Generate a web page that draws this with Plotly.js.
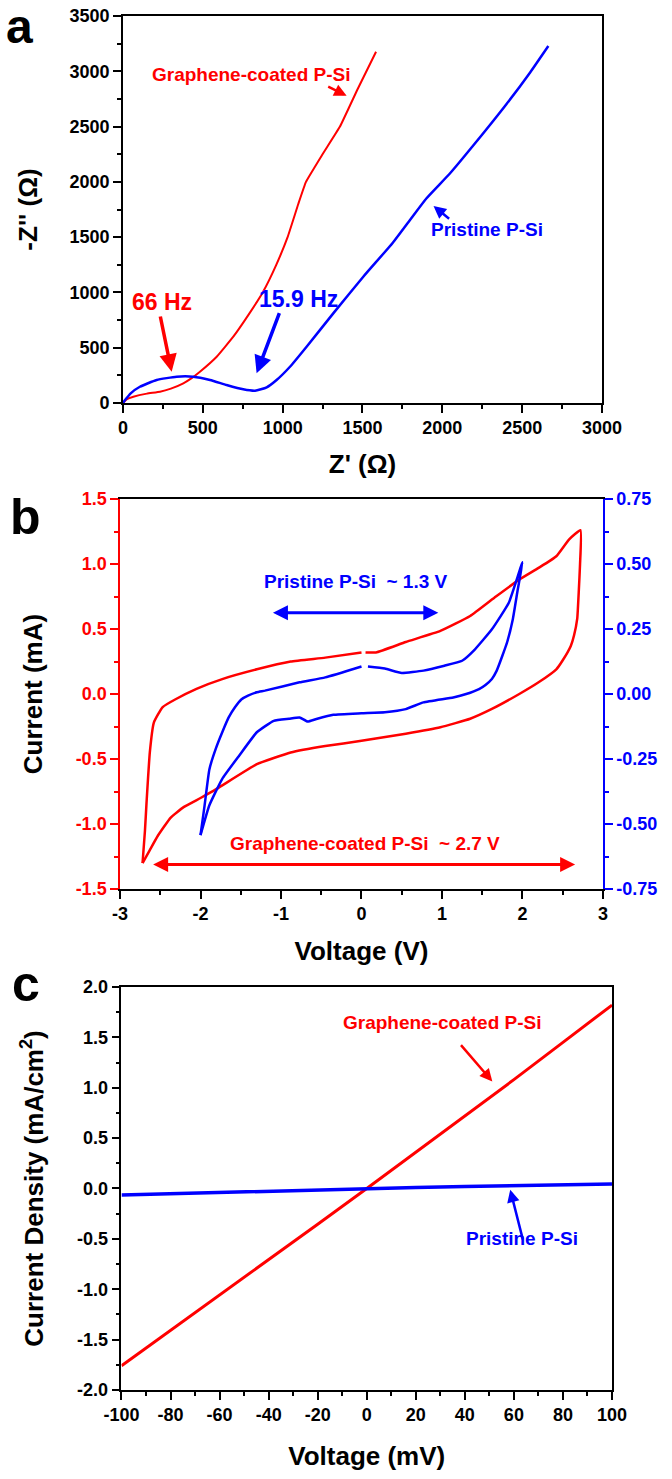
<!DOCTYPE html>
<html>
<head>
<meta charset="utf-8">
<script src="https://cdn.plot.ly/plotly-3.0.1.min.js"></script>
<style>
  html, body { margin: 0; padding: 0; background: #fff; }
  #chart { width: 672px; height: 1479px; }
</style>
</head>
<body>
<div id="chart"></div>
<script>
// ---- panel a : Nyquist plot ----
var eisGrapheneZre = [0, 25, 65, 150, 232, 300, 378, 430, 482, 587, 691, 792, 875, 960, 1031, 1098, 1146, 1250, 1359, 1470, 1585];
var eisGrapheneZim = [0, 35, 57, 85, 102, 130, 178, 225, 283, 419, 600, 811, 1000, 1250, 1500, 1800, 2000, 2250, 2500, 2840, 3177];
var eisPristineZre = [0, 13, 50, 106, 211, 336, 440, 545, 649, 753, 827, 900, 962, 1046, 1150, 1317, 1505, 1690, 1800, 1900, 2050, 2200, 2400, 2550, 2664];
var eisPristineZim = [0, 27, 90, 147, 208, 238, 238, 208, 163, 124, 111, 142, 208, 328, 509, 811, 1142, 1450, 1660, 1850, 2080, 2340, 2700, 2990, 3229];
var aTicks = [0, 500, 1000, 1500, 2000, 2500, 3000];
var aYTicks = [0, 500, 1000, 1500, 2000, 2500, 3000, 3500];

// ---- panel b : cyclic voltammetry ----
var cvGrapheneV = [-2.72, -2.69, -2.67, -2.63, -2.58, -2.47, -2.31, -2.05, -1.73, -1.30, -0.88, -0.45, 0.0, null, 0.05, 0.18, 0.55, 0.98, 1.35, 1.67, 1.96, 2.20, 2.42, 2.58, 2.72,
                   2.715, 2.70, 2.68, 2.64, 2.60, 2.50, 2.42, 2.20, 1.96, 1.62, 1.35, 0.98, 0.55, 0.0, -0.45, -0.88, -1.30, -1.80, -2.0, -2.21, -2.37, -2.53, -2.63, -2.72];
var cvGrapheneI = [-1.30, -1.05, -0.83, -0.45, -0.22, -0.10, -0.04, 0.04, 0.115, 0.19, 0.25, 0.28, 0.32, null, 0.32, 0.32, 0.40, 0.485, 0.60, 0.75, 0.88, 0.97, 1.06, 1.19, 1.26,
                   1.0, 0.80, 0.58, 0.45, 0.37, 0.26, 0.19, 0.09, 0.0, -0.115, -0.19, -0.255, -0.305, -0.36, -0.40, -0.45, -0.54, -0.73, -0.80, -0.87, -0.95, -1.09, -1.2, -1.30];
var cvPristineV = [-2.0, -1.95, -1.89, -1.81, -1.73, -1.65, -1.57, -1.49, -1.41, -1.30, -1.20, -0.77, -0.45, 0.0, null, 0.08, 0.29, 0.50, 0.77, 1.03, 1.25, 1.41, 1.62, 1.83, 2.0,
                   1.94, 1.88, 1.81, 1.75, 1.68, 1.62, 1.54, 1.46, 1.30, 1.14, 0.77, 0.55, 0.29, 0.0, -0.35, -0.56, -0.67, -0.77, -0.90, -1.09, -1.30, -1.52, -1.73, -1.89, -2.0];
var cvPristineI = [-0.543, -0.43, -0.29, -0.21, -0.147, -0.09, -0.05, -0.02, -0.006, 0.007, 0.013, 0.045, 0.064, 0.106, null, 0.106, 0.098, 0.081, 0.09, 0.109, 0.128, 0.172, 0.249, 0.351, 0.507,
                   0.40, 0.288, 0.20, 0.147, 0.09, 0.058, 0.035, 0.019, 0.0, -0.013, -0.032, -0.058, -0.07, -0.074, -0.08, -0.096, -0.106, -0.09, -0.095, -0.103, -0.147, -0.237, -0.326, -0.428, -0.543];
var bXTicks = [-3, -2, -1, 0, 1, 2, 3];
var bYTicks = [-1.5, -1.0, -0.5, 0.0, 0.5, 1.0, 1.5];
var bYLabels = ['-1.5', '-1.0', '-0.5', '0.0', '0.5', '1.0', '1.5'];
var bY2Ticks = [-0.75, -0.5, -0.25, 0, 0.25, 0.5, 0.75];
var bY2Labels = ['-0.75', '-0.50', '-0.25', '0.00', '0.25', '0.50', '0.75'];

// ---- panel c : I-V ----
var ivVoltage = [-100, -80, -60, -40, -20, 0, 20, 40, 60, 80, 100];
var ivGraphene = [-1.76, -1.41, -1.06, -0.71, -0.355, 0, 0.36, 0.72, 1.08, 1.45, 1.82];
var ivPristine = [-0.066, -0.052, -0.039, -0.026, -0.013, 0, 0.01, 0.02, 0.03, 0.037, 0.043];
var cXTicks = [-100, -80, -60, -40, -20, 0, 20, 40, 60, 80, 100];
var cYTicks = [-2.0, -1.5, -1.0, -0.5, 0.0, 0.5, 1.0, 1.5, 2.0];
var cYLabels = ['-2.0', '-1.5', '-1.0', '-0.5', '0.0', '0.5', '1.0', '1.5', '2.0'];

var RED = '#ff0000', BLUE = '#0000ff';
var FONT = 'Liberation Sans, Arial, sans-serif';

function lbl(vals) { return vals.map(function (v) { return String(v); }); }

function axis(opts) {
  var col = opts.color || 'black';
  var a = {
    showline: true, linecolor: col, linewidth: 1.5,
    ticks: 'outside', ticklen: 8, tickwidth: 1.5, tickcolor: col,
    tickmode: 'array',
    showgrid: false, zeroline: false, automargin: false,
    tickfont: { family: FONT, size: 18, color: col, weight: 'bold' },
  };
  for (var k in opts) { if (k !== 'color') a[k] = opts[k]; }
  return a;
}

function minor(dtick, col, side) {
  return { tickmode: 'linear', tick0: 0, dtick: dtick, ticks: side || 'outside', ticklen: 4, tickwidth: 1.5, tickcolor: col || 'black', showgrid: false };
}

// invisible twin axis that only draws the inner half of the minor ticks,
// so the minor ticks cross the axis line like in the original figure
function twin(over, anchor, range, dtick, col, side) {
  var a = {
    overlaying: over, anchor: anchor, range: range,
    showline: false, showticklabels: false, ticks: '', showgrid: false, zeroline: false,
    automargin: false, minor: minor(dtick, col, 'inside'),
  };
  if (side) a.side = side;
  return a;
}

function ttl(text, standoff) {
  return { text: text, standoff: standoff, font: { family: FONT, size: 26, color: 'black', weight: 'bold' } };
}

var data = [
  { x: eisGrapheneZre, y: eisGrapheneZim, xaxis: 'x', yaxis: 'y', mode: 'lines', line: { color: RED, width: 2, shape: 'spline', smoothing: 0.3 } },
  { x: eisPristineZre, y: eisPristineZim, xaxis: 'x', yaxis: 'y', mode: 'lines', line: { color: BLUE, width: 2.5, shape: 'spline', smoothing: 0.5 } },
  { x: cvGrapheneV, y: cvGrapheneI, xaxis: 'x2', yaxis: 'y2', mode: 'lines', connectgaps: false, line: { color: RED, width: 2.5, shape: 'spline', smoothing: 0.4 } },
  { x: cvPristineV, y: cvPristineI, xaxis: 'x2', yaxis: 'y3', mode: 'lines', connectgaps: false, line: { color: BLUE, width: 2.5, shape: 'spline', smoothing: 0.4 } },
  { x: ivVoltage, y: ivGraphene, xaxis: 'x3', yaxis: 'y4', mode: 'lines', line: { color: RED, width: 3 } },
  { x: ivVoltage, y: ivPristine, xaxis: 'x3', yaxis: 'y4', mode: 'lines', line: { color: BLUE, width: 3.5 } },
];

function txt(text, x, y, xr, yr, color, size) {
  return { text: text, x: x, y: y, xref: xr, yref: yr, showarrow: false,
    font: { family: FONT, size: size || 19, color: color, weight: 'bold' } };
}
function arrow(x, y, ax, ay, xr, yr, color, width) {
  return { text: '', x: x, y: y, ax: ax, ay: ay, xref: xr, yref: yr, axref: xr, ayref: yr,
    showarrow: true, arrowhead: 2, arrowsize: 1, arrowwidth: width, arrowcolor: color };
}
function dbl(x0, x1, y, xr, yr, color) {
  var a = arrow(x1, y, x0, y, xr, yr, color, 3);
  a.arrowside = 'end+start';
  a.startarrowhead = 2;
  a.startarrowsize = 1;
  return a;
}
function letter(t, px, py, size) {
  return { text: t, x: px / 672, y: 1 - py / 1479, xref: 'paper', yref: 'paper', showarrow: false,
    xanchor: 'center', yanchor: 'middle', font: { family: FONT, size: size || 50, color: 'black', weight: 'bold' } };
}

var layout = {
  width: 672, height: 1479,
  margin: { l: 0, r: 0, t: 0, b: 0 },
  paper_bgcolor: 'white', plot_bgcolor: 'white',
  showlegend: false,
  xaxis: axis({ domain: [0.1830, 0.8958], range: [0, 3000], anchor: 'y', mirror: true,
    tickvals: aTicks, ticktext: lbl(aTicks), minor: minor(250),
    title: ttl("Z' (\u03a9)", 17) }),
  yaxis: axis({ domain: [0.7275, 0.98918], range: [0, 3500], anchor: 'x', mirror: true,
    tickvals: aYTicks, ticktext: lbl(aYTicks), minor: minor(250),
    title: ttl("-Z'' (\u03a9)", 24) }),
  xaxis2: axis({ domain: [0.1786, 0.8973], range: [-3, 3], anchor: 'y2', mirror: true,
    tickvals: bXTicks, ticktext: lbl(bXTicks), minor: minor(0.5),
    title: ttl('Voltage (V)', 18) }),
  yaxis2: axis({ color: RED, domain: [0.3989, 0.6626], range: [-1.5, 1.5], anchor: 'x2',
    tickvals: bYTicks, ticktext: bYLabels, minor: minor(0.25, RED),
    title: ttl('Current (mA)', 26) }),
  yaxis3: axis({ color: BLUE, domain: [0.3989, 0.6626], range: [-0.75, 0.75], anchor: 'x2', overlaying: 'y2', side: 'right',
    tickvals: bY2Ticks, ticktext: bY2Labels, minor: minor(0.125, BLUE) }),
  xaxis3: axis({ domain: [0.1808, 0.9107], range: [-100, 100], anchor: 'y4', mirror: true,
    tickvals: cXTicks, ticktext: lbl(cXTicks), minor: minor(10),
    title: ttl('Voltage (mV)', 22) }),
  yaxis4: axis({ domain: [0.0602, 0.3327], range: [-2, 2], anchor: 'x3', mirror: true,
    tickvals: cYTicks, ticktext: cYLabels, minor: minor(0.25),
    title: ttl('Current Density (mA/cm<sup>2</sup>)', 26) }),
  // twins for the inner half of the crossing minor ticks
  xaxis4: twin('x', 'y', [0, 3000], 250, 'black', 'bottom'),
  yaxis5: twin('y', 'x', [0, 3500], 250, 'black', 'left'),
  xaxis5: twin('x2', 'y2', [-3, 3], 0.5, 'black', 'bottom'),
  yaxis6: twin('y2', 'x2', [-1.5, 1.5], 0.25, RED, 'left'),
  yaxis7: twin('y2', 'x2', [-0.75, 0.75], 0.125, BLUE, 'right'),
  xaxis6: twin('x3', 'y4', [-100, 100], 10, 'black', 'bottom'),
  yaxis8: twin('y4', 'x3', [-2, 2], 0.25, 'black', 'left'),
  annotations: [
    letter('a', 19, 27, 48), letter('b', 25, 517), letter('c', 26, 984),
    // panel a
    txt('Graphene-coated P-Si', 802, 2975, 'x', 'y', RED),
    arrow(1401, 2779, 1276, 2867, 'x', 'y', RED, 2.5),
    txt('66 Hz', 242, 916, 'x', 'y', RED, 23),
    arrow(305, 283, 232, 796, 'x', 'y', RED, 3.5),
    txt('15.9 Hz', 1102, 941, 'x', 'y', BLUE, 23),
    arrow(837, 269, 983, 826, 'x', 'y', BLUE, 3.5),
    txt('Pristine P-Si', 2280, 1565, 'x', 'y', BLUE),
    arrow(1945, 1782, 2052, 1655, 'x', 'y', BLUE, 2.5),
    // panel b
    txt('Pristine P-Si  ~ 1.3 V', -0.068, 0.862, 'x2', 'y2', BLUE),
    dbl(-1.119, 0.954, 0.626, 'x2', 'y2', BLUE),
    txt('Graphene-coated P-Si  ~ 2.7 V', 0.043, -1.146, 'x2', 'y2', RED),
    dbl(-2.607, 2.654, -1.311, 'x2', 'y2', RED),
    // panel c
    txt('Graphene-coated P-Si', 30.9, 1.645, 'x3', 'y4', RED),
    arrow(51.2, 1.062, 37.9, 1.437, 'x3', 'y4', RED, 2.5),
    txt('Pristine P-Si', 63.3, -0.497, 'x3', 'y4', BLUE),
    arrow(58.5, -0.013, 63.8, -0.52, 'x3', 'y4', BLUE, 2.5),
  ],
};

Plotly.newPlot('chart', data, layout, { displayModeBar: false, responsive: false });
</script>
</body>
</html>
